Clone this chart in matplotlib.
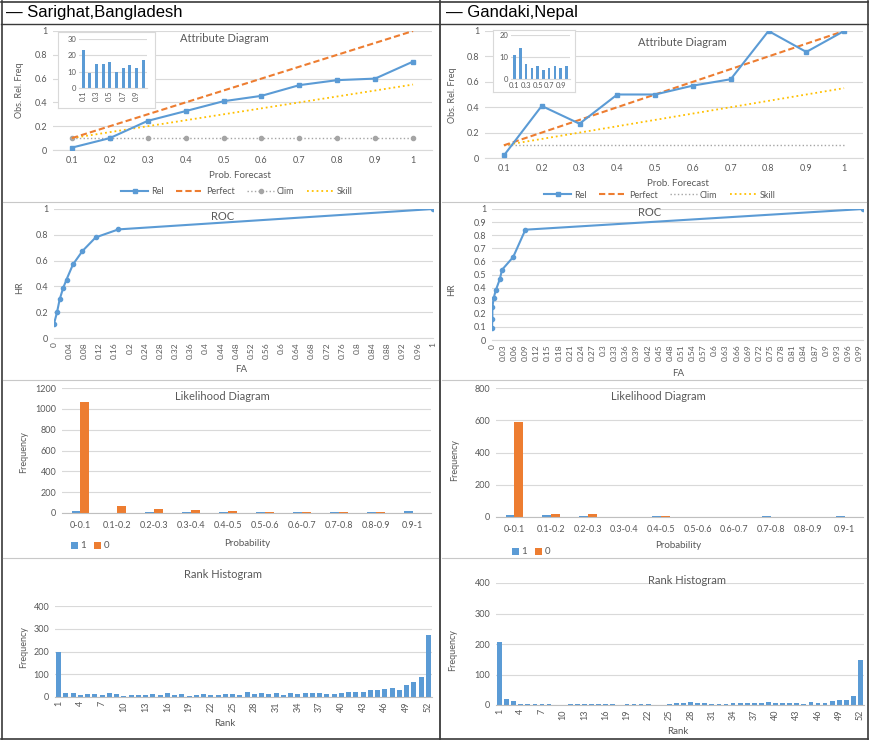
import numpy as np
import matplotlib
matplotlib.use('Agg')
import matplotlib.pyplot as plt
from matplotlib.lines import Line2D

# ---- data ----
attr_labels = ['0.1', '0.2', '0.3', '0.4', '0.5', '0.6', '0.7', '0.8', '0.9', '1']
perfect = [0.1, 0.2, 0.3, 0.4, 0.5, 0.6, 0.7, 0.8, 0.9, 1.0]
clim = [0.1, 0.1, 0.1, 0.1, 0.1, 0.1, 0.1, 0.1, 0.1, 0.1]
skill = [0.1, 0.15, 0.2, 0.25, 0.3, 0.35, 0.4, 0.45, 0.5, 0.55]
sar_rel = [0.02, 0.10, 0.245, 0.327, 0.41, 0.455, 0.545, 0.587, 0.60, 0.743]
gan_rel = [0.02, 0.41, 0.27, 0.50, 0.50, 0.57, 0.62, 1.0, 0.835, 1.0]
sar_sharp = [23, 9, 15, 15, 16, 10, 12, 14, 12, 17]
gan_sharp = [11, 14, 7, 5, 6, 4, 5, 6, 5, 6]

sar_fa = [0.0, 0.008, 0.015, 0.024, 0.033, 0.05, 0.075, 0.11, 0.17, 1.0]
sar_hr = [0.11, 0.20, 0.30, 0.386, 0.453, 0.57, 0.674, 0.78, 0.842, 1.0]
gan_fa = [0.0, 0.001, 0.001, 0.0045, 0.01, 0.021, 0.027, 0.057, 0.09, 1.0]
gan_hr = [0.09, 0.16, 0.25, 0.32, 0.378, 0.464, 0.536, 0.633, 0.842, 1.0]

lik_labels = ['0-0.1', '0.1-0.2', '0.2-0.3', '0.3-0.4', '0.4-0.5',
              '0.5-0.6', '0.6-0.7', '0.7-0.8', '0.8-0.9', '0.9-1']
sar_obs1 = [16, 4, 12, 12, 12, 6, 8, 8, 8, 15]
sar_obs0 = [1066, 70, 42, 29, 19, 10, 8, 6, 6, 3]
gan_obs1 = [10, 12, 6, 2, 5, 2, 2, 5, 2, 4]
gan_obs0 = [590, 17, 19, 2, 5, 2, 3, 0, 0, 0]

ranks = list(range(1, 53))
sar_rank = [200, 18, 18, 9, 12, 12, 10, 18, 12, 6, 10, 10, 10, 12, 9, 16, 9, 13,
            3, 9, 12, 7, 9, 12, 12, 9, 23, 13, 17, 13, 19, 10, 18, 12, 16, 16,
            16, 12, 12, 19, 23, 22, 23, 29, 31, 35, 38, 31, 52, 64, 88, 273]
gan_rank = [205, 21, 12, 4, 3, 2, 3, 4, 1, 1, 2, 3, 3, 3, 4, 2, 2, 1,
            3, 3, 4, 2, 1, 1, 3, 5, 8, 11, 5, 5, 4, 3, 3, 5, 7, 5,
            5, 7, 10, 5, 5, 5, 7, 4, 10, 6, 8, 13, 16, 16, 30, 147]

BLUE = '#5B9BD5'
ORANGE = '#ED7D31'
GRAY = '#A5A5A5'
YELLOW = '#FFC000'
TXT = '#595959'
GRID = '#D9D9D9'

plt.rcParams['font.family'] = ['Lato', 'DejaVu Sans']

W, H = 869, 740
fig = plt.figure(figsize=(W / 100, H / 100), dpi=100)


def box(l, t, r, b):
    return fig.add_axes([l / W, 1 - b / H, (r - l) / W, (b - t) / H])


def ftxt(x, y, s, size=7, rot=0, ha='center', color=TXT, **kw):
    fig.text(x / W, 1 - y / H, s, fontsize=size, rotation=rot, ha=ha,
             va='center', color=color, **kw)


def style(ax, size=6.5):
    for s in ['top', 'right', 'left']:
        ax.spines[s].set_visible(False)
    ax.spines['bottom'].set_color('#BFBFBF')
    ax.spines['bottom'].set_linewidth(0.8)
    ax.yaxis.grid(True, color=GRID, lw=0.8)
    ax.set_axisbelow(True)
    ax.tick_params(length=0, labelsize=size, colors=TXT, pad=4)
    ax.set_facecolor('none')


def num(v):
    s = ('%.2f' % v).rstrip('0').rstrip('.')
    return s


# ---- attribute diagrams ----
x10 = np.arange(10)


def attribute(ax, rel, clim_marker, pos_title, pos_xl, pos_yl, pos_leg):
    style(ax)
    ax.spines['bottom'].set_color(GRID)
    ax.plot(x10, rel, color=BLUE, lw=1.5, marker='s', ms=3.5, label='Rel', zorder=5)
    ax.plot(x10, perfect, color=ORANGE, lw=1.5, ls=(0, (3, 1.5)), label='Perfect', zorder=4)
    if clim_marker:
        ax.plot(x10, clim, color=GRAY, lw=1, ls=':', marker='o', ms=3, label='Clim', zorder=3)
    else:
        ax.plot(x10, clim, color=GRAY, lw=1, ls=':', label='Clim', zorder=3)
    ax.plot(x10, skill, color=YELLOW, lw=1.3, ls=':', label='Skill', zorder=3)
    ax.set_xlim(-0.5, 9.5)
    ax.set_ylim(0, 1)
    ax.set_xticks(x10)
    ax.set_xticklabels(attr_labels)
    ax.set_yticks([0, 0.2, 0.4, 0.6, 0.8, 1])
    ax.set_yticklabels(['0', '0.2', '0.4', '0.6', '0.8', '1'])
    ftxt(*pos_title, 'Attribute Diagram', size=8)
    ftxt(*pos_xl, 'Prob. Forecast', size=7)
    ftxt(*pos_yl, 'Obs. Rel. Freq', size=6.5, rot=90)
    ax.legend(loc='center', bbox_to_anchor=(pos_leg[0] / W, 1 - pos_leg[1] / H),
              bbox_transform=fig.transFigure, ncol=4, frameon=False, fontsize=6.5,
              handlelength=3, columnspacing=1.4, handletextpad=0.3, labelcolor=TXT)


def inset(frame, bars, counts, ymax, yt, rotate):
    fr = box(*frame)
    fr.set_xticks([])
    fr.set_yticks([])
    for s in fr.spines.values():
        s.set_color('#D9D9D9')
        s.set_linewidth(0.8)
    fr.set_facecolor('white')
    fr.set_zorder(10)
    ib = box(*bars)
    ib.set_zorder(11)
    style(ib, size=5.5)
    ib.spines['bottom'].set_color(GRID)
    ib.bar(x10, counts, width=0.45, color=BLUE)
    ib.set_xlim(-0.6, 9.6)
    ib.set_ylim(0, ymax)
    ib.set_yticks(yt)
    ib.set_xticks([0, 2, 4, 6, 8])
    ib.set_xticklabels(['0.1', '0.3', '0.5', '0.7', '0.9'], rotation=90 if rotate else 0)
    ib.tick_params(pad=2)


ax = box(53, 31, 432, 150)
attribute(ax, sar_rel, True, (224, 38), (240, 175), (20, 90), (237, 192))
inset((58, 32, 155, 108), (79, 39, 147, 88), sar_sharp, 30, [0, 10, 20, 30], True)

ax = box(485, 31, 863, 158)
attribute(ax, gan_rel, False, (682, 42), (678, 183), (452, 95), (660, 195))
inset((493, 30, 575, 92), (511, 35, 570, 79), gan_sharp, 20, [0, 10, 20], False)

# ---- ROC ----


def roc(ax, fa, hr, xt, yt, pos_title, pos_xl, pos_yl):
    style(ax)
    ax.spines['bottom'].set_color(GRID)
    ax.plot(fa, hr, color=BLUE, lw=1.5, marker='o', ms=3)
    ax.set_xlim(0, 1)
    ax.set_ylim(0, 1)
    ax.set_xticks(xt)
    ax.set_xticklabels([num(v) for v in xt], rotation=90)
    ax.set_yticks(yt)
    ax.set_yticklabels([num(v) for v in yt])
    ax.tick_params(axis='x', labelsize=6, pad=3)
    ftxt(*pos_title, 'ROC', size=8)
    ftxt(*pos_xl, 'FA', size=7)
    ftxt(*pos_yl, 'HR', size=6.5, rot=90)


ax = box(54, 209, 433, 338)
roc(ax, sar_fa, sar_hr, [i * 0.04 for i in range(26)], [0, 0.2, 0.4, 0.6, 0.8, 1],
    (223, 217), (241, 370), (20, 288))
ax = box(492, 209, 863, 340)
roc(ax, gan_fa, gan_hr, [i * 0.03 for i in range(34)], [i * 0.1 for i in range(11)],
    (650, 213), (678, 374), (452, 290))

# ---- likelihood ----


def likelihood(ax, o1, o0, ymax, pos_title, pos_xl, pos_yl, pos_leg):
    style(ax)
    w = 0.24
    ax.bar(x10 - w / 2, o1, width=w, color=BLUE, label='1')
    ax.bar(x10 + w / 2, o0, width=w, color=ORANGE, label='0')
    ax.set_xlim(-0.5, 9.5)
    ax.set_ylim(0, ymax)
    ax.set_yticks(np.arange(0, ymax + 1, 200))
    ax.set_xticks(x10)
    ax.set_xticklabels(lik_labels)
    ax.tick_params(axis='x', labelsize=6.5, pad=6)
    ftxt(*pos_title, 'Likelihood Diagram', size=8)
    ftxt(*pos_xl, 'Probability', size=7)
    ftxt(*pos_yl, 'Frequency', size=6.5, rot=90)
    ax.legend(loc='center', bbox_to_anchor=(pos_leg[0] / W, 1 - pos_leg[1] / H),
              bbox_transform=fig.transFigure, ncol=2, frameon=False, fontsize=7,
              handlelength=0.7, handleheight=0.7, columnspacing=0.8,
              handletextpad=0.3, labelcolor=TXT)


ax = box(62, 388, 431, 513)
likelihood(ax, sar_obs1, sar_obs0, 1200, (222, 397), (247, 543), (24, 452), (90, 546))
ax = box(496, 388, 863, 517)
likelihood(ax, gan_obs1, gan_obs0, 800, (658, 397), (678, 545), (455, 460), (531, 552))

# ---- rank histograms ----


def rank(ax, vals, pos_title, pos_xl, pos_yl):
    style(ax)
    ax.bar(ranks, vals, width=0.68, color=BLUE)
    ax.set_xlim(0.5, 52.5)
    ax.set_ylim(0, 400)
    ax.set_yticks([0, 100, 200, 300, 400])
    ax.set_xticks(ranks[::3])
    ax.set_xticklabels([str(r) for r in ranks[::3]], rotation=90)
    ax.tick_params(axis='x', labelsize=6.5, pad=3)
    ftxt(*pos_title, 'Rank Histogram', size=8)
    ftxt(*pos_xl, 'Rank', size=7)
    ftxt(*pos_yl, 'Frequency', size=6.5, rot=90)


ax = box(55, 606, 432, 697)
rank(ax, sar_rank, (223, 575), (225, 723), (24, 647))
ax = box(496, 583, 864, 705)
rank(ax, gan_rank, (687, 580), (678, 731), (453, 650))

# ---- table frame and headers ----


def hline(y, x0, x1, color, lw):
    fig.add_artist(Line2D([x0 / W, x1 / W], [1 - y / H, 1 - y / H], color=color, lw=lw))


def vline(x, y0, y1, color, lw):
    fig.add_artist(Line2D([x / W, x / W], [1 - y0 / H, 1 - y1 / H], color=color, lw=lw))


DARK = '#3A3A3A'
hline(1.5, 1, 868, DARK, 1.2)
hline(738.5, 1, 868, DARK, 1.2)
vline(1.5, 1, 739, DARK, 1.2)
vline(867.5, 1, 739, DARK, 1.2)
vline(440, 1, 739, DARK, 1.3)
hline(24, 1, 868, DARK, 1.0)
for y in [202, 380, 558]:
    hline(y, 3, 438, '#C8C8C8', 0.8)
    hline(y, 442, 866, '#C8C8C8', 0.8)

fig.text(6 / W, 1 - 13 / H, '\u2014 Sarighat,Bangladesh', fontsize=12, ha='left',
         va='center', color='black', family=['Liberation Sans', 'DejaVu Sans'])
fig.text(446 / W, 1 - 13 / H, '\u2014 Gandaki,Nepal', fontsize=12, ha='left',
         va='center', color='black', family=['Liberation Sans', 'DejaVu Sans'])

fig.savefig('out.png', dpi=100)
